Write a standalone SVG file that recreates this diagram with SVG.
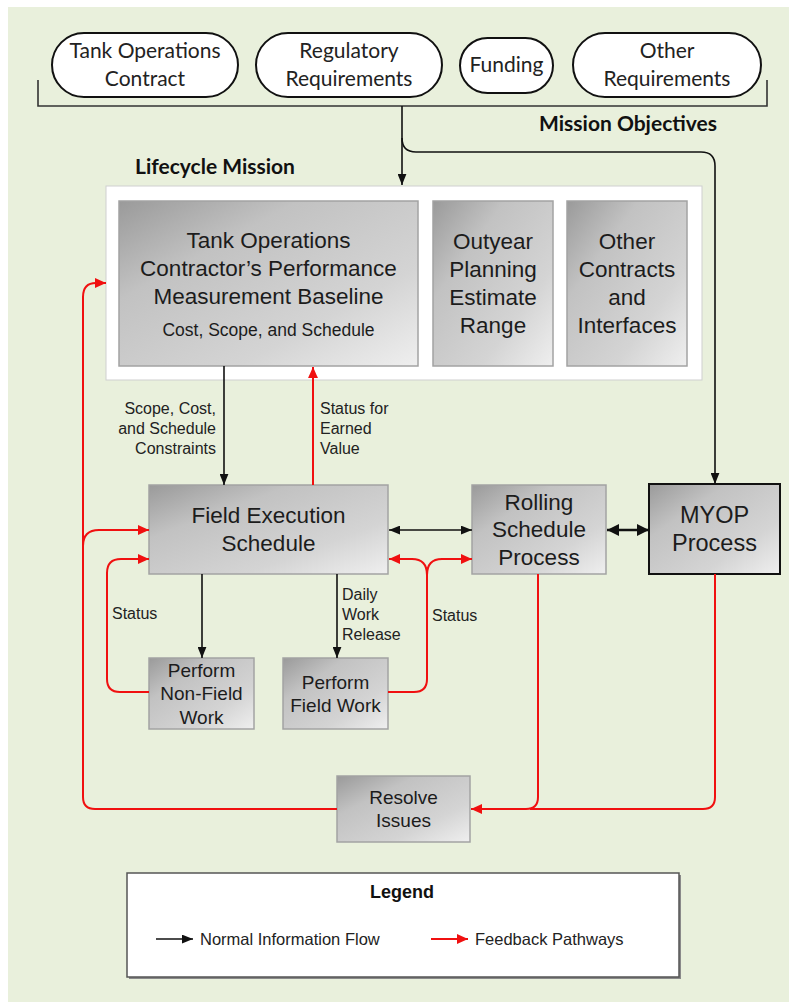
<svg xmlns="http://www.w3.org/2000/svg" width="789" height="1002" viewBox="0 0 789 1002">
<defs>
<linearGradient id="gbox" x1="0" y1="0" x2="1" y2="1">
<stop offset="0" stop-color="#9a9a9a"/>
<stop offset="0.3" stop-color="#c2c2c2"/>
<stop offset="0.7" stop-color="#d4d4d4"/>
<stop offset="1" stop-color="#efefef"/>
</linearGradient>
<marker id="ab" viewBox="0 0 10 8" refX="10" refY="4" markerWidth="11" markerHeight="9" markerUnits="userSpaceOnUse" orient="auto-start-reverse"><path d="M0,0 L10,4 L0,8 z" fill="#111"/></marker>
<marker id="abig" viewBox="0 0 12 12" refX="12" refY="6" markerWidth="12" markerHeight="12" markerUnits="userSpaceOnUse" orient="auto-start-reverse"><path d="M0,0 L12,6 L0,12 z" fill="#111"/></marker>
<marker id="ar" viewBox="0 0 10 9" refX="10" refY="4.5" markerWidth="11" markerHeight="10" markerUnits="userSpaceOnUse" orient="auto-start-reverse"><path d="M0,0 L10,4.5 L0,9 z" fill="#f01010"/></marker>
</defs>
<style>
.pill{fill:#fff;stroke:#111;stroke-width:2}
.box{fill:url(#gbox);stroke:#a3a3a3;stroke-width:1.5}
.pt{font-family:Lato,"Open Sans",sans-serif;font-size:21px;fill:#222;text-anchor:middle}
.bt{font-family:"Liberation Sans",Arial,sans-serif;font-size:22.5px;fill:#1c1c1c;text-anchor:middle}
.mt{font-family:"Liberation Sans",Arial,sans-serif;font-size:19px;fill:#1c1c1c;text-anchor:middle}
.lt{font-family:"Liberation Sans",Arial,sans-serif;font-size:16px;fill:#222}
.hd{font-family:Lato,"Open Sans",sans-serif;font-size:21px;font-weight:bold;fill:#111}
.blk{fill:none;stroke:#111;stroke-width:1.6}
.red{fill:none;stroke:#f01010;stroke-width:2}
</style>
<rect x="8" y="7" width="781" height="995" fill="#e9f0dc"/>

<g id="mission-objectives">
<path d="M38,80 V106 H767 V80" fill="none" stroke="#333" stroke-width="1.6"/>
<text class="hd" x="717" y="131" text-anchor="end">Mission Objectives</text>
</g>
<g id="tank-operations-contract">
<rect class="pill" x="52" y="33" width="186" height="64" rx="32"/>
<text class="pt" x="145" y="58">Tank Operations</text>
<text class="pt" x="145" y="86">Contract</text>
</g>
<g id="regulatory-requirements">
<rect class="pill" x="256" y="33" width="186" height="64" rx="32"/>
<text class="pt" x="349" y="58">Regulatory</text>
<text class="pt" x="349" y="86">Requirements</text>
</g>
<g id="funding">
<rect class="pill" x="460" y="38" width="93" height="55" rx="27.5"/>
<text class="pt" x="506.5" y="72">Funding</text>
</g>
<g id="other-requirements">
<rect class="pill" x="573" y="33" width="188" height="64" rx="32"/>
<text class="pt" x="667" y="58">Other</text>
<text class="pt" x="667" y="86">Requirements</text>
</g>

<g id="lifecycle-mission">
<text class="hd" x="135" y="174">Lifecycle Mission</text>
<rect x="106" y="186" width="596" height="194" fill="#fff" stroke="#cfcfcf" stroke-width="1"/>
</g>
<g id="pmb">
<rect class="box" x="119" y="201" width="299" height="165"/>
<text class="bt" x="268.5" y="248">Tank Operations</text>
<text class="bt" x="268.5" y="276">Contractor’s Performance</text>
<text class="bt" x="268.5" y="304">Measurement Baseline</text>
<text class="bt" x="268.5" y="336" style="font-size:17.5px">Cost, Scope, and Schedule</text>
</g>
<g id="outyear">
<rect class="box" x="433" y="201" width="120" height="165"/>
<text class="bt" x="493" y="249">Outyear</text>
<text class="bt" x="493" y="277">Planning</text>
<text class="bt" x="493" y="305">Estimate</text>
<text class="bt" x="493" y="333">Range</text>
</g>
<g id="other-contracts">
<rect class="box" x="567" y="201" width="120" height="165"/>
<text class="bt" x="627" y="249">Other</text>
<text class="bt" x="627" y="277">Contracts</text>
<text class="bt" x="627" y="305">and</text>
<text class="bt" x="627" y="333">Interfaces</text>
</g>

<g id="field-execution-schedule">
<rect class="box" x="149" y="485" width="239" height="89"/>
<text class="bt" x="268.5" y="523">Field Execution</text>
<text class="bt" x="268.5" y="551">Schedule</text>
</g>
<g id="rolling-schedule-process">
<rect class="box" x="472" y="485" width="134" height="89"/>
<text class="bt" x="539" y="510">Rolling</text>
<text class="bt" x="539" y="537">Schedule</text>
<text class="bt" x="539" y="565">Process</text>
</g>
<g id="myop-process">
<rect x="649" y="484" width="131" height="90" fill="url(#gbox)" stroke="#111" stroke-width="2"/>
<text class="bt" x="714.5" y="523" style="font-size:23.5px">MYOP</text>
<text class="bt" x="714.5" y="551" style="font-size:23.5px">Process</text>
</g>
<g id="perform-non-field-work">
<rect class="box" x="149" y="658" width="105" height="71"/>
<text class="mt" x="201.5" y="677">Perform</text>
<text class="mt" x="201.5" y="700">Non-Field</text>
<text class="mt" x="201.5" y="724">Work</text>
</g>
<g id="perform-field-work">
<rect class="box" x="283" y="658" width="105" height="71"/>
<text class="mt" x="335.5" y="689">Perform</text>
<text class="mt" x="335.5" y="712">Field Work</text>
</g>
<g id="resolve-issues">
<rect class="box" x="337" y="776" width="133" height="66"/>
<text class="mt" x="403.5" y="804">Resolve</text>
<text class="mt" x="403.5" y="827">Issues</text>
</g>

<g id="connectors">
<path class="blk" d="M402,106 V185" marker-end="url(#ab)"/>
<path class="blk" d="M402,138 Q402,152 416,152 H701 Q715,152 715,166 V484" marker-end="url(#ab)"/>
<path class="blk" d="M224,366 V485" marker-end="url(#ab)"/>
<path class="red" d="M313,485 V367" marker-end="url(#ar)"/>
<path class="blk" d="M389,530 H472" marker-start="url(#ab)" marker-end="url(#ab)"/>
<path d="M607,530 H649" fill="none" stroke="#111" stroke-width="2.6" marker-start="url(#abig)" marker-end="url(#abig)"/>
<path class="blk" d="M202,574 V658" marker-end="url(#ab)"/>
<path class="blk" d="M337,574 V658" marker-end="url(#ab)"/>

<path class="red" d="M337,809 H95 Q83,809 83,797 V297 Q83,283 96,283 H106" marker-end="url(#ar)"/>
<path class="red" d="M83,546 Q83,530 99,530 H149" marker-end="url(#ar)"/>
<path class="red" d="M149,692 H120 Q107,692 107,679 V573 Q107,559 121,559 H149" marker-end="url(#ar)"/>
<path class="red" d="M388,692 H414 Q427,692 427,679 V575 Q427,559 412,559 H389" marker-end="url(#ar)"/>
<path class="red" d="M427,575 Q427,559 442,559 H472" marker-end="url(#ar)"/>
<path class="red" d="M538,574 V797 Q538,809 526,809 H471" marker-end="url(#ar)"/>
<path class="red" d="M715,574 V797 Q715,809 703,809 H530"/>

<text class="lt" x="216" y="414" text-anchor="end">Scope, Cost,</text>
<text class="lt" x="216" y="434" text-anchor="end">and Schedule</text>
<text class="lt" x="216" y="454" text-anchor="end">Constraints</text>
<text class="lt" x="320" y="414">Status for</text>
<text class="lt" x="320" y="434">Earned</text>
<text class="lt" x="320" y="454">Value</text>
<text class="lt" x="112" y="619">Status</text>
<text class="lt" x="342" y="600">Daily</text>
<text class="lt" x="342" y="620">Work</text>
<text class="lt" x="342" y="640">Release</text>
<text class="lt" x="432" y="621">Status</text>
</g>

<g id="legend">
<rect x="129" y="875" width="552" height="104" fill="#8a8a8a"/>
<rect x="127" y="873" width="552" height="104" fill="#fff" stroke="#555" stroke-width="1.5"/>
<text x="402" y="898" text-anchor="middle" style="font-family:'Liberation Sans',Arial,sans-serif;font-size:18px;font-weight:bold;fill:#111">Legend</text>
<path class="blk" d="M156,939 H193" marker-end="url(#ab)"/>
<text class="lt" x="200" y="945" style="font-size:16.5px">Normal Information Flow</text>
<path class="red" d="M431,939 H468" marker-end="url(#ar)"/>
<text class="lt" x="475" y="945" style="font-size:16.5px">Feedback Pathways</text>
</g>
</svg>
